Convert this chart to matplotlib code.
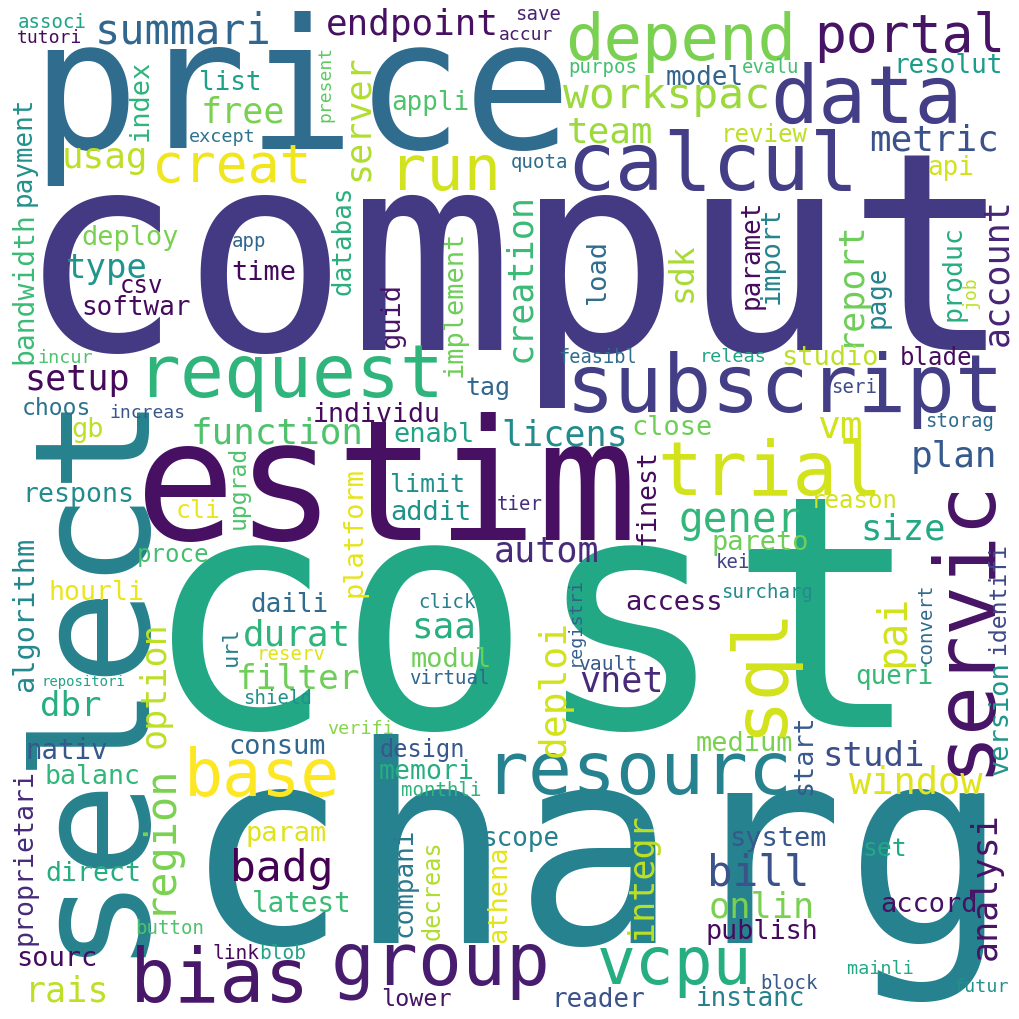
import matplotlib
matplotlib.use("Agg")
import matplotlib.pyplot as plt

# palabras de la nube, su peso (tamaño en px), posicion y tono viridis
words = ["comput", "cost", "charg", "price", "estim", "select", "request", "subscript",
         "servic", "data", "calcul", "depend", "portal", "summari", "endpoint", "save",
         "accur", "workspac", "model", "evalu", "resolut", "metric", "review", "api",
         "run", "creat", "usag", "free", "list", "index", "payment", "bandwidth",
         "associ", "tutori", "present", "except", "deploy", "type", "app", "time",
         "csv", "softwar", "databas", "server", "appli", "purpos", "team", "quota",
         "creation", "implement", "guid", "load", "sdk", "paramet", "import", "report",
         "page", "produc", "job", "account", "incur", "setup", "choos", "increas",
         "gb", "function", "individu", "respons", "cli", "upgrad", "proce", "algorithm",
         "hourli", "daili", "durat", "url", "reserv", "option", "filter", "repositori",
         "dbr", "shield", "verifi", "nativ", "consum", "base", "balanc", "proprietari",
         "region", "param", "badg", "direct", "latest", "button", "link", "blob",
         "sourc", "rais", "bias", "group", "vcpu", "lower", "reader", "resourc",
         "virtual", "vnet", "deploi", "design", "memori", "monthli", "scope", "compani",
         "decreas", "athena", "integr", "queri", "version", "identifi", "convert", "medium",
         "start", "studi", "window", "system", "set", "bill", "analysi", "onlin",
         "accord", "publish", "mainli", "block", "futur", "instanc", "feasibl", "tag",
         "enabl", "licens", "close", "finest", "limit", "addit", "tier", "platform",
         "autom", "access", "click", "saa", "registri", "modul", "vault", "trial",
         "sql", "pai", "vm", "plan", "gener", "reason", "size", "pareto",
         "kei", "surcharg", "studio", "blade", "releas", "seri", "storag"]

weights = [276, 325, 275, 180, 167, 160, 73, 81,
           83, 80, 81, 64, 53, 42, 36, 19,
           18, 43, 26, 19, 26, 36, 24, 26,
           62, 53, 36, 35, 26, 27, 26, 28,
           19, 18, 18, 18.5, 27, 34, 19, 27,
           24, 26, 26, 35, 26, 19, 36, 19,
           35, 27, 27, 27, 33, 26, 27, 35,
           26, 26.5, 18, 35, 18.5, 35, 23, 18,
           27, 36, 26.5, 26.5, 25, 23, 24, 28.6,
           26.5, 26, 36, 22, 19, 35, 34.5, 14,
           34, 19, 18.5, 27.5, 27, 65, 26.5, 26.5,
           42, 27, 43, 26.5, 27.6, 19, 19.5, 19.5,
           27, 35, 75, 73, 64.5, 23.4, 26, 73,
           19, 35, 38, 23.6, 26.5, 19, 26, 26,
           23.6, 27, 35, 26, 27, 23, 19, 27,
           26.8, 34, 37, 27, 24.6, 42.5, 35, 35.4,
           27, 26.7, 18.5, 19, 18.4, 26, 18.7, 25,
           27, 35, 27, 26.5, 25, 27, 19, 27,
           35, 27, 19, 36, 18.5, 27, 19.6, 75,
           74, 40, 38, 36, 41, 24, 35.5, 27,
           19, 19, 27, 24, 18.5, 19, 19]

pos_x = [515, 532, 597, 301, 386, 133, 290, 785,
         987, 867, 713, 681, 910, 183, 412, 538,
         526, 667, 705, 771, 948, 934, 764, 951,
         445, 232, 105, 243, 230, 148, 31, 32,
         52, 50, 330, 222, 130, 107, 249, 264,
         142, 136, 351, 368, 430, 603, 610, 540,
         530, 462, 399, 605, 692, 759, 779, 859,
         885, 961, 975, 1007, 65, 77, 56, 147,
         88, 277, 377, 78, 198, 245, 173, 33,
         97, 290, 297, 237, 291, 165, 298, 83,
         71, 278, 360, 67, 277, 262, 93, 32,
         170, 286, 282, 93, 302, 170, 236, 283,
         57, 67, 220, 441, 675, 416, 598, 638,
         449, 622, 565, 422, 427, 441, 520, 412,
         440, 506, 652, 894, 1008, 1005, 931, 744,
         811, 874, 916, 778, 885, 758, 996, 762,
         929, 762, 880, 789, 981, 750, 598, 488,
         434, 565, 672, 655, 428, 431, 520, 362,
         547, 674, 447, 444, 580, 451, 608, 770,
         780, 904, 840, 954, 740, 854, 903, 760,
         733, 767, 830, 936, 733, 854, 960]

pos_y = [350, 727, 943, 148, 540, 668, 397, 412,
         626, 123, 190, 60, 52, 43, 35, 20,
         40, 108, 85, 73, 73, 150, 142, 175,
         190, 183, 168, 122, 90, 100, 151, 288,
         28, 43, 84, 142, 245, 278, 247, 280,
         293, 315, 240, 118, 110, 73, 142, 168,
         277, 304, 316, 271, 272, 254, 255, 283,
         297, 273, 293, 272, 363, 390, 415, 418,
         437, 443, 422, 502, 518, 487, 562, 614,
         600, 612, 645, 646, 660, 685, 689, 686,
         716, 704, 734, 759, 754, 796, 784, 857,
         838, 841, 881, 881, 912, 934, 959, 959,
         966, 1001, 1002, 984, 984, 1006, 1007, 794,
         684, 692, 688, 757, 779, 796, 846, 882,
         890, 894, 877, 684, 718, 598, 624, 751,
         755, 766, 794, 846, 856, 886, 886, 917,
         912, 939, 974, 989, 992, 1006, 363, 395,
         442, 445, 435, 497, 492, 520, 510, 532,
         562, 610, 608, 638, 621, 667, 670, 495,
         670, 631, 438, 467, 532, 508, 540, 550,
         568, 598, 365, 365, 362, 393, 427]

vertical = [0, 0, 0, 0, 0, 1, 0, 0,
            1, 0, 0, 0, 0, 0, 0, 0,
            0, 0, 0, 0, 0, 0, 0, 0,
            0, 0, 0, 0, 0, 1, 1, 1,
            0, 0, 1, 0, 0, 0, 0, 0,
            0, 0, 1, 1, 0, 0, 0, 0,
            1, 1, 1, 1, 1, 1, 1, 1,
            1, 1, 1, 1, 0, 0, 0, 0,
            0, 0, 0, 0, 0, 1, 0, 1,
            0, 0, 0, 1, 0, 1, 0, 0,
            0, 0, 0, 0, 0, 0, 0, 1,
            1, 0, 0, 0, 0, 0, 0, 0,
            0, 0, 0, 0, 0, 0, 0, 0,
            0, 0, 1, 0, 0, 0, 0, 1,
            1, 1, 1, 0, 1, 1, 1, 0,
            1, 0, 0, 0, 0, 0, 1, 0,
            0, 0, 0, 0, 0, 0, 0, 0,
            0, 0, 0, 1, 0, 0, 0, 1,
            0, 0, 0, 0, 1, 0, 0, 0,
            1, 1, 0, 0, 0, 0, 0, 0,
            0, 0, 0, 0, 0, 0, 0]

shade = [0.17, 0.60, 0.44, 0.35, 0.04, 0.44, 0.65, 0.18,
         0.05, 0.18, 0.18, 0.80, 0.05, 0.33, 0.04, 0.10,
         0.08, 0.85, 0.32, 0.70, 0.55, 0.25, 0.90, 0.93,
         0.93, 0.98, 0.90, 0.80, 0.57, 0.65, 0.50, 0.68,
         0.58, 0.03, 0.75, 0.38, 0.80, 0.52, 0.33, 0.02,
         0.02, 0.03, 0.63, 0.88, 0.72, 0.70, 0.85, 0.35,
         0.68, 0.78, 0.05, 0.35, 0.87, 0.03, 0.45, 0.78,
         0.45, 0.62, 0.90, 0.10, 0.72, 0.02, 0.38, 0.27,
         0.90, 0.72, 0.03, 0.48, 0.97, 0.72, 0.70, 0.47,
         0.97, 0.35, 0.65, 0.43, 0.95, 0.90, 0.78, 0.58,
         0.62, 0.50, 0.82, 0.27, 0.33, 1.00, 0.66, 0.12,
         0.80, 0.95, 0.00, 0.62, 0.68, 0.72, 0.03, 0.58,
         0.03, 0.90, 0.06, 0.08, 0.62, 0.05, 0.25, 0.44,
         0.33, 0.12, 0.93, 0.27, 0.62, 0.65, 0.43, 0.40,
         0.88, 0.96, 0.90, 0.67, 0.52, 0.22, 0.35, 0.80,
         0.28, 0.24, 0.95, 0.27, 0.60, 0.25, 0.05, 0.80,
         0.04, 0.03, 0.60, 0.28, 0.50, 0.43, 0.35, 0.33,
         0.58, 0.48, 0.78, 0.03, 0.50, 0.50, 0.13, 0.96,
         0.12, 0.04, 0.43, 0.63, 0.30, 0.78, 0.28, 0.93,
         0.93, 0.93, 0.93, 0.28, 0.66, 0.93, 0.60, 0.78,
         0.20, 0.48, 0.90, 0.03, 0.58, 0.23, 0.35]

cmap = plt.get_cmap("viridis")

fig = plt.figure(figsize=(10.19, 10.19), dpi=100)
ax = fig.add_axes([0, 0, 1, 1])
ax.set_xlim(0, 1019)
ax.set_ylim(1019, 0)
ax.axis("off")

for w, s, x, y, v, c in zip(words, weights, pos_x, pos_y, vertical, shade):
    ax.text(x, y, w, fontsize=s * 0.72, family="DejaVu Sans Mono",
            color=cmap(c), ha="center", va="baseline",
            rotation=90 if v else 0, rotation_mode="anchor")

fig.savefig("out.png", dpi=100, facecolor="white")
